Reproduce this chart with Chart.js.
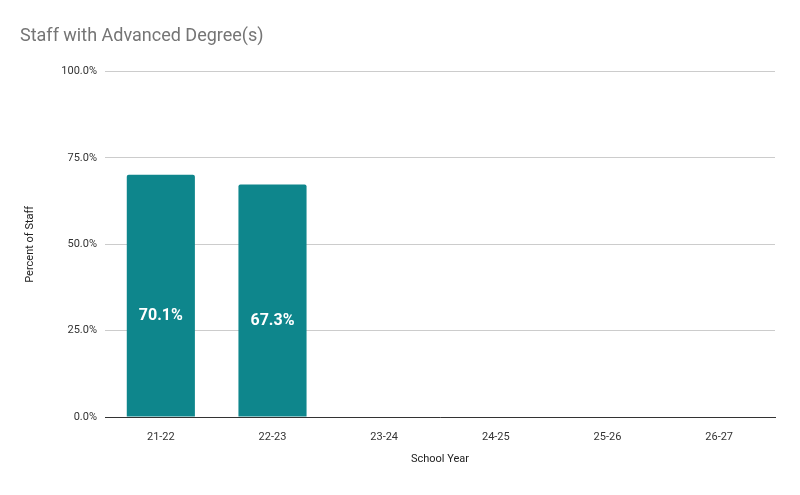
<!DOCTYPE html>
<html><head><meta charset="utf-8">
<script src="https://cdn.jsdelivr.net/npm/chart.js@4"></script>
<style>html,body{margin:0;padding:0;background:#fff}#wrap{width:800px;height:495px}</style>
</head><body><div id="wrap"><canvas id="c"></canvas></div>
<script>
const categories = ["21-22","22-23","23-24","24-25","25-26","26-27"];
const values = [70.1, 67.3, null, null, null, null];
const yTicks = [0, 25, 50, 75, 100];

const labelPlugin = {
  id: 'midLabels',
  afterDatasetsDraw(chart) {
    const ctx = chart.ctx;
    const meta = chart.getDatasetMeta(0);
    ctx.save();
    ctx.fillStyle = '#ffffff';
    ctx.font = 'bold 16px Roboto';
    ctx.textAlign = 'center';
    ctx.textBaseline = 'middle';
    meta.data.forEach((bar, i) => {
      if (values[i] == null) return;
      const y = (bar.y + bar.base) / 2 + 20;
      ctx.fillText(values[i].toFixed(1) + '%', bar.x, y);
    });
    ctx.restore();
  }
};

new Chart(document.getElementById('c'), {
  type: 'bar',
  data: { labels: categories, datasets: [{ data: values, backgroundColor: '#0e868c', borderRadius: {topLeft:2, topRight:2}, borderSkipped: 'bottom', categoryPercentage: 1, barPercentage: 0.61 }] },
  options: {
    responsive: true, maintainAspectRatio: false, animation: false,
    layout: { padding: { left: 20, right: 25, top: 0, bottom: 25 } },
    plugins: {
      legend: { display: false }, tooltip: { enabled: false },
      title: { display: true, text: 'Staff with Advanced Degree(s)', align: 'start', color: '#757575', font: { family: 'Roboto', size: 18, weight: 'normal' }, padding: { top: 26, bottom: 24 } }
    },
    scales: {
      x: {
        grid: { display: false }, border: { color: '#333333' },
        ticks: { color: '#333', font: { family: 'Roboto', size: 11 }, padding: 6 },
        title: { display: true, text: 'School Year', color: '#222', font: { family: 'Roboto', size: 11 } },
        afterFit(s) { s.height = 53; }
      },
      y: {
        min: 0, max: 100,
        afterBuildTicks(s) { s.ticks = yTicks.map(v => ({ value: v })); },
        grid: { color: '#cccccc', drawTicks: false }, border: { display: false },
        ticks: { color: '#333', font: { family: 'Roboto', size: 11 }, padding: 8, callback: v => v.toFixed(1) + '%' },
        title: { display: true, text: 'Percent of Staff', color: '#222', font: { family: 'Roboto', size: 11 } },
        afterFit(s) { s.width = 85; }
      }
    }
  },
  plugins: [labelPlugin]
});
</script></body></html>
